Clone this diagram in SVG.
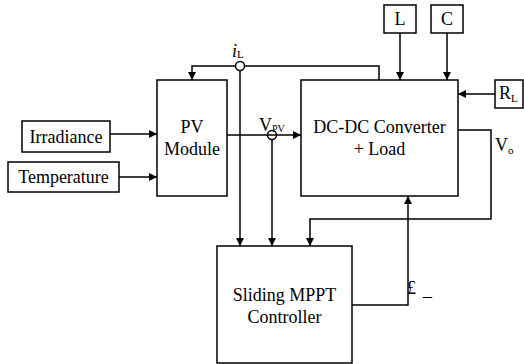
<svg xmlns="http://www.w3.org/2000/svg" width="524" height="364" viewBox="0 0 524 364">
<defs>
<marker id="arr" viewBox="0 0 10 10" refX="10" refY="5" markerWidth="8" markerHeight="8" markerUnits="userSpaceOnUse" orient="auto">
<path d="M0,0 L10,5 L0,10 z" fill="#000"/>
</marker>
<style>
.box{fill:#fff;stroke:#000;stroke-width:1.5}
text{font-family:"Liberation Serif","Times New Roman","DejaVu Serif",serif;font-size:18px;fill:#000}
.c{text-anchor:middle}
.sub{font-size:11px}
#connectors path,#connectors line{fill:none;stroke:#000;stroke-width:1.5}
.a{marker-end:url(#arr)}
circle{fill:none;stroke:#000;stroke-width:1.5}
</style>
</defs>
<rect width="524" height="364" fill="#fff"/>
<g id="connectors">
<line class="a" x1="110" y1="134" x2="157" y2="134"/>
<line class="a" x1="119" y1="177" x2="157" y2="177"/>
<path class="a" d="M235.5,66 H192 V80"/>
<path d="M244.5,66 H379 V80"/>
<line class="a" x1="240" y1="70.5" x2="240" y2="246"/>
<path class="a" d="M227,135 H301"/>
<line class="a" x1="272" y1="139.5" x2="272" y2="246"/>
<line class="a" x1="400" y1="33" x2="400" y2="80"/>
<line class="a" x1="447" y1="33" x2="447" y2="80"/>
<line class="a" x1="495" y1="94" x2="458" y2="94"/>
<path class="a" d="M458,130 H491 V219 H310 V246"/>
<path class="a" d="M352,305 H408 V196"/>
<circle cx="240" cy="66" r="4.5"/>
<circle cx="272" cy="135" r="4.5"/>
</g>
<g id="irradiance"><rect class="box" x="22" y="121" width="88" height="31"/><text class="c" x="66" y="143">Irradiance</text></g>
<g id="temperature"><rect class="box" x="8" y="162" width="111" height="30"/><text class="c" x="63.5" y="183">Temperature</text></g>
<g id="pv"><rect class="box" x="157" y="80" width="70" height="116"/><text class="c" x="192" y="133">PV</text><text class="c" x="192" y="155">Module</text></g>
<g id="dcdc"><rect class="box" x="301" y="80" width="157" height="116"/><text class="c" x="379.5" y="133">DC-DC Converter</text><text class="c" x="379.5" y="155">+ Load</text></g>
<g id="L"><rect class="box" x="384" y="5" width="32" height="28"/><text class="c" x="400" y="25">L</text></g>
<g id="C"><rect class="box" x="431" y="5" width="32" height="28"/><text class="c" x="447" y="25">C</text></g>
<g id="RL"><rect class="box" x="495" y="80" width="28" height="28"/><text x="499" y="99">R<tspan class="sub" dy="3">L</tspan></text></g>
<g id="controller"><rect class="box" x="217" y="246" width="135" height="117"/><text class="c" x="284.5" y="301">Sliding MPPT</text><text class="c" x="284.5" y="323">Controller</text></g>
<g id="labels">
<text x="232" y="57" font-style="italic">i<tspan class="sub" font-style="normal" dy="1">L</tspan></text>
<text x="259" y="131">V<tspan font-size="10" dy="1">PV</tspan></text>
<text x="495" y="151">V<tspan class="sub" dy="3">o</tspan></text>
<text x="407" y="294" font-size="16">£</text>
<text x="423" y="296" font-size="16">_</text>
</g>
</svg>
